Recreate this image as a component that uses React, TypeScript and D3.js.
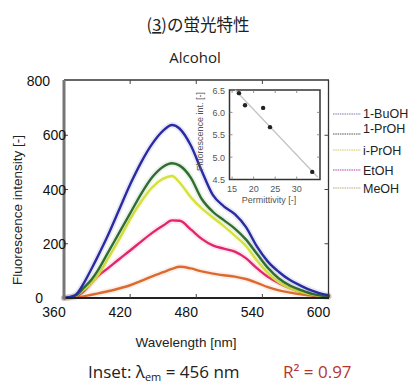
import * as d3 from 'd3';
import React from 'react';

// wavelength grid [nm]
const wavelengths = [360, 370, 378, 385, 390, 400, 410, 420, 430, 440, 450, 458, 465, 475, 485, 495, 505, 515, 525, 535, 545, 555, 565, 575, 585, 595, 600];

// fluorescence intensity per solvent
const buoh = [0, 10, 55, 108, 148, 232, 325, 418, 500, 568, 617, 638, 624, 563, 468, 380, 338, 309, 262, 190, 134, 96, 66, 45, 27, 14, 10];
const proh = [0, 8, 38, 68, 97, 168, 240, 312, 384, 445, 484, 497, 488, 444, 365, 318, 287, 256, 216, 163, 111, 72, 46, 29, 15, 8, 6];
const iproh = [0, 6, 30, 55, 80, 145, 215, 290, 355, 408, 440, 450, 425, 372, 330, 297, 265, 230, 192, 138, 92, 58, 36, 22, 13, 7, 5];
const etoh = [0, 5, 25, 55, 78, 110, 143, 175, 208, 240, 267, 286, 285, 253, 218, 194, 182, 171, 147, 110, 78, 55, 36, 22, 12, 6, 4];
const meoh = [0, 2, 6, 12, 16, 25, 35, 47, 63, 80, 95, 107, 115, 109, 98, 90, 84, 79, 70, 56, 40, 28, 20, 14, 9, 5, 4];

const solventNames = ['1-BuOH', '1-PrOH', 'i-PrOH', 'EtOH', 'MeOH'];
const xTicks = [360, 420, 480, 540, 600];
const yTicks = [0, 200, 400, 600, 800];

// inset: ln(intensity) vs permittivity
const permittivity = [16.6, 18.0, 22.2, 23.8, 33.6];
const lnIntensity = [6.43, 6.16, 6.1, 5.67, 4.67];
const fitX = [15.7, 34.9];
const fitY = [6.5, 4.55];
const insetXTicks = [15, 20, 25, 30];
const insetYTicks = [4.5, 5.0, 5.5, 6.0, 6.5];

const series = [
  { name: 'MeOH', values: meoh, color: '#dc6a30', legend: '#b8a87a' },
  { name: 'EtOH', values: etoh, color: '#e2266e', legend: '#b0449c' },
  { name: 'i-PrOH', values: iproh, color: '#d6e23c', legend: '#dcc25a' },
  { name: '1-PrOH', values: proh, color: '#2f6e30', legend: '#4a584a' },
  { name: '1-BuOH', values: buoh, color: '#2a2aa2', legend: '#7a7aa8' },
];

// legend vertical slots (text y, line y)
const legendPos = {
  '1-BuOH': [113, 114],
  '1-PrOH': [128, 134],
  'i-PrOH': [150, 150],
  'EtOH': [170, 170],
  'MeOH': [188, 188],
};

// y label nudges as in the pasted picture
const yLabelX = { 0: 43, 200: 66, 400: 66, 600: 66, 800: 50 };

const sans = '"Liberation Sans", Arial, sans-serif';

export default function App() {
  const x = d3.scaleLinear().domain([360, 600]).range([64, 328.5]);
  const y = d3.scaleLinear().domain([0, 800]).range([298, 81]);

  const line = d3.line<number>()
    .x((d, i) => x(wavelengths[i]))
    .y(d => y(d))
    .curve(d3.curveMonotoneX);

  const xi = d3.scaleLinear().domain([14.4, 35.4]).range([229.5, 320]);
  const yi = d3.scaleLinear().domain([4.5, 6.5]).range([179.5, 90]);

  return (
    <svg width={417} height={383} style={{ position: 'absolute', left: 0, top: 0, background: '#fff' }}>
      {/* titles */}
      <text x={198} y={31} textAnchor="middle" fontFamily='"Noto Sans CJK JP", sans-serif' fontSize={16.5} fill="#222">
        (<tspan textDecoration="underline">3</tspan>)の蛍光特性
      </text>
      <text x={195} y={63} textAnchor="middle" fontFamily='"Open Sans", sans-serif' fontSize={15} fill="#222">Alcohol</text>

      {/* curves */}
      <g fill="none" strokeLinejoin="round" strokeLinecap="round">
        {series.map(s => (
          <g key={s.name}>
            <path d={line(s.values) || ''} stroke={s.color} strokeWidth={6} strokeOpacity={0.1} />
            <path d={line(s.values) || ''} stroke={s.color} strokeWidth={2.4} />
          </g>
        ))}
      </g>

      {/* frame */}
      <line x1={64} x2={329} y1={80} y2={80} stroke="#333" strokeWidth={1.3} />
      <line x1={328.5} x2={328.5} y1={80} y2={298} stroke="#333" strokeWidth={1.3} />
      <line x1={64} x2={329} y1={298} y2={298} stroke="#222" strokeWidth={2.2} />
      <line x1={64} x2={64} y1={80} y2={299} stroke="#777" strokeWidth={3} />
      {xTicks.slice(1, -1).map(t => (
        <g key={t} stroke="#444" strokeWidth={1}>
          <line x1={x(t)} x2={x(t)} y1={80} y2={84} />
          <line x1={x(t)} x2={x(t)} y1={298} y2={294} />
        </g>
      ))}
      {yTicks.slice(1, -1).map(t => (
        <g key={t} stroke="#444" strokeWidth={1}>
          <line x1={64} x2={68} y1={y(t)} y2={y(t)} />
          <line x1={328.5} x2={324.5} y1={y(t)} y2={y(t)} />
        </g>
      ))}

      {/* tick labels */}
      <g fontFamily={sans} fontSize={14} fill="#111">
        {xTicks.map(t => (
          <text key={t} x={x(t) - 10} y={317} textAnchor="middle">{t}</text>
        ))}
        {yTicks.map(t => (
          <text key={t} x={yLabelX[t]} y={y(t) + 5} textAnchor="end">{t}</text>
        ))}
      </g>
      <text x={186} y={347} textAnchor="middle" fontFamily={sans} fontSize={13.5} fill="#222">Wavelength [nm]</text>
      <text transform="translate(22,210) rotate(-90)" textAnchor="middle" fontFamily={sans} fontSize={13.5} fill="#222">
        Fluorescence intensity [-]
      </text>

      {/* inset */}
      <rect x={229.5} y={90} width={90.5} height={89.5} fill="#fff" stroke="#333" strokeWidth={1.5} />
      <g stroke="#777" strokeWidth={0.8}>
        {insetXTicks.map(t => (
          <g key={t}>
            <line x1={xi(t)} x2={xi(t)} y1={179.5} y2={176.5} />
            <line x1={xi(t)} x2={xi(t)} y1={90} y2={93} />
          </g>
        ))}
        {insetYTicks.slice(1, -1).map(t => (
          <g key={t}>
            <line x1={229.5} x2={232.5} y1={yi(t)} y2={yi(t)} />
            <line x1={320} x2={317} y1={yi(t)} y2={yi(t)} />
          </g>
        ))}
      </g>
      <line x1={xi(fitX[0])} x2={xi(fitX[1])} y1={yi(fitY[0])} y2={yi(fitY[1])} stroke="#c4c4c4" strokeWidth={1.3} />
      {permittivity.map((p, i) => (
        <circle key={i} cx={xi(p)} cy={yi(lnIntensity[i])} r={2.2} fill="#222" />
      ))}
      <g fontFamily={sans} fontSize={9} fill="#555">
        {insetXTicks.map(t => (
          <text key={t} x={xi(t)} y={192} textAnchor="middle">{t}</text>
        ))}
        {insetYTicks.map(t => (
          <text key={t} x={225} y={yi(t) + 3.5} textAnchor="end">{t.toFixed(1)}</text>
        ))}
        <text x={269} y={203} textAnchor="middle">Permittivity [-]</text>
        <text transform="translate(203,92) rotate(-90)" textAnchor="end">Fluorescence int. [-]</text>
      </g>

      {/* legend */}
      <g fontFamily={sans} fontSize={12.5} fill="#222">
        {solventNames.map(n => {
          const s = series.find(d => d.name === n)!;
          const [ty, ly] = legendPos[n];
          return (
            <g key={n}>
              <line x1={333} x2={361} y1={ly} y2={ly} stroke={s.legend} strokeWidth={1.2} strokeDasharray="1.5 0.8" />
              <text x={363} y={ty + 4.5}>{n}</text>
            </g>
          );
        })}
      </g>

      {/* footnote */}
      <g fontFamily='"Open Sans", sans-serif' fontSize={17}>
        <text x={88} y={378} fill="#222">
          Inset:  λ<tspan fontSize={11} dy={3}>em</tspan><tspan dy={-3}> = 456 nm</tspan>
        </text>
        <text x={283} y={378} fill="#b5362f">R² = 0.97</text>
      </g>
    </svg>
  );
}
